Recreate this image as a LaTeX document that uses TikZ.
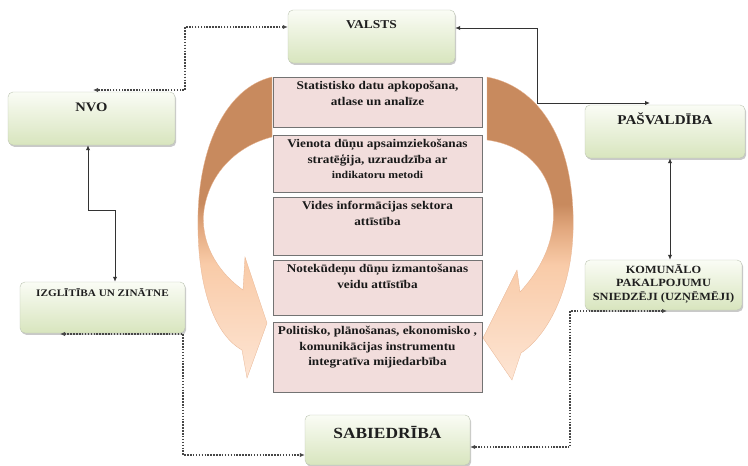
\documentclass[tikz,border=0pt]{standalone}
\usepackage{fontspec}
\setmainfont{Liberation Serif}
\newfontfamily\wf[FakeStretch=1.12]{Liberation Serif}
\usetikzlibrary{arrows.meta,shadows,calc}

\definecolor{brownD}{RGB}{200,138,94}
\definecolor{brownM}{RGB}{226,168,126}
\definecolor{peachM}{RGB}{249,203,168}
\definecolor{peachL}{RGB}{253,229,212}
\definecolor{gTop}{RGB}{250,252,245}
\definecolor{gBot}{RGB}{216,229,190}
\definecolor{pinkF}{RGB}{242,221,220}
\definecolor{arrEdge}{RGB}{232,180,145}
\pgfdeclareverticalshading{arrowshade}{100bp}{color(0bp)=(peachL); color(25bp)=(peachL); color(44bp)=(peachM); color(50bp)=(brownM); color(54bp)=(brownD); color(100bp)=(brownD)}

\tikzset{
  gbox/.style={draw={rgb,255:red,190;green,198;blue,180}, line width=0.4pt, rounded corners=5pt,
    top color=gTop, bottom color=gBot,
    drop shadow={shadow xshift=1.2pt, shadow yshift=-1.8pt, opacity=0.35, fill=black!60}},
  pbox/.style={draw=black!55, line width=0.9pt, fill=pinkF, minimum width=209pt},
  gtxt/.style={text=black!88, inner sep=0pt},
  ptxt/.style={font=\wf\bfseries\fontsize{11.8}{15.5}\selectfont, align=center, inner sep=0pt, text=black!90},
  tipA/.tip={Latex[length=5pt,width=4.4pt]},
  sconn/.style={draw=black!80, line width=1pt, tipA-tipA},
  dconn/.style={draw=black!72, line width=1.1pt, dash pattern=on 1.5pt off 1.4pt, tipA-tipA},
  bigarrow/.style={shading=arrowshade, draw=arrEdge, line width=0.3pt}
}

\begin{document}
\begin{tikzpicture}[x=1pt,y=-1pt]
\useasboundingbox (0,0) rectangle (748,466);
\fill[white] (0,0) rectangle (748,466);

% big curved arrows
\shade[bigarrow] (272,77) .. controls (225,88) and (196,150) .. (198,230)
  .. controls (199,290) and (215,335) .. (242,350) -- (247,378) -- (267,323) -- (245,257) -- (243,290)
  .. controls (215,270) and (200,240) .. (204,210) .. controls (210,170) and (240,145) .. (272,137) -- cycle;
\shade[bigarrow] (487,77) .. controls (545,88) and (576,150) .. (573,233)
  .. controls (571,290) and (548,335) .. (521,353) -- (512,380) -- (483,338) -- (517,270) -- (520,292)
  .. controls (545,265) and (556,235) .. (553,205) .. controls (549,170) and (525,145) .. (487,140) -- cycle;

% central boxes
\node[pbox, minimum height=50pt] (p1) at (377.5,102) {};
\node[pbox, minimum height=57pt] (p2) at (377.5,163.5) {};
\node[pbox, minimum height=58pt] (p3) at (377.5,226) {};
\node[pbox, minimum height=55pt] (p4) at (377.5,287.5) {};
\node[pbox, minimum height=70pt] (p5) at (377.5,357) {};
\node[ptxt, anchor=north] (p1t) at (377.5,81) {Statistisko datu apkopošana,\\ atlase un analīze};
\node[ptxt, anchor=north] (p2t) at (377.5,139) {Vienota dūņu apsaimziekošanas\\ stratēģija, uzraudzība ar\\ {\fontsize{10.5}{12}\selectfont indikatoru metodi}};
\node[ptxt, anchor=north] (p3t) at (377.5,201) {Vides informācijas sektora\\ attīstība};
\node[ptxt, anchor=north] (p4t) at (377.5,264) {Notekūdeņu dūņu izmantošanas\\ veidu attīstība};
\node[ptxt, anchor=north] (p5t) at (377.5,326) {Politisko, plānošanas, ekonomisko ,\\ komunikācijas instrumentu\\ integratīva mijiedarbība};

% green boxes
\node[gbox, minimum width=167pt, minimum height=53pt] (valsts) at (371.5,36.5) {};
\node[gbox, minimum width=167pt, minimum height=53pt] (nvo) at (91.5,118.5) {};
\node[gbox, minimum width=160pt, minimum height=53pt] (pasv) at (665,131.5) {};
\node[gbox, minimum width=165pt, minimum height=51pt] (izg) at (102.5,307.5) {};
\node[gbox, minimum width=157pt, minimum height=50pt] (kom) at (663.5,285) {};
\node[gbox, minimum width=165pt, minimum height=50pt] (sab) at (387.5,440) {};

\node[gtxt, font=\wf\bfseries\fontsize{12}{14}\selectfont] (valstsT) at (371.5,25) {VALSTS};
\node[gtxt, font=\wf\bfseries\fontsize{13}{15}\selectfont] (nvoT) at (91.5,107) {NVO};
\node[gtxt, font=\wf\bfseries\fontsize{13.5}{15}\selectfont] (pasvT) at (665,119) {PAŠVALDĪBA};
\node[gtxt, font=\wf\bfseries\fontsize{10}{12}\selectfont] (izgT) at (102.5,293) {IZGLĪTĪBA UN ZINĀTNE};
\node[gtxt, align=center, font=\wf\bfseries\fontsize{11}{13.5}\selectfont] (komT) at (663.5,284) {KOMUNĀLO\\ PAKALPOJUMU\\ SNIEDZĒJI (UZŅĒMĒJI)};
\node[gtxt, font=\wf\bfseries\fontsize{15.5}{17}\selectfont] (sabT) at (387.5,432) {SABIEDRĪBA};

% connectors
\coordinate (c1) at (185,27);
\coordinate (c2) at (185,90);
\coordinate (c3) at (93,90);
\draw[dconn] (valsts.west |- c1) -- (c1) -- (c2) -- (c3);

\coordinate (c4) at (537,28);
\coordinate (c5) at (537,103);
\coordinate (c6) at (650,103);
\draw[sconn] (valsts.east |- c4) -- (c4) -- (c5) -- (c6);

\coordinate (c7) at (88,210);
\coordinate (c8) at (115,210);
\draw[sconn] (nvo.south -| c7) -- (c7) -- (c8) -- (izg.north -| c8);

\coordinate (c9) at (670,200);
\draw[sconn] (pasv.south -| c9) -- (kom.north -| c9);

\coordinate (c10) at (60,334);
\coordinate (c11) at (183,334);
\coordinate (c12) at (183,455);
\draw[dconn] (c10) -- (c11) -- (c12) -- (sab.west |- c12);

\coordinate (c13) at (667,311);
\coordinate (c14) at (570,311);
\coordinate (c15) at (570,447);
\draw[dconn] (c13) -- (c14) -- (c15) -- (sab.east |- c15);
\end{tikzpicture}
\end{document}
